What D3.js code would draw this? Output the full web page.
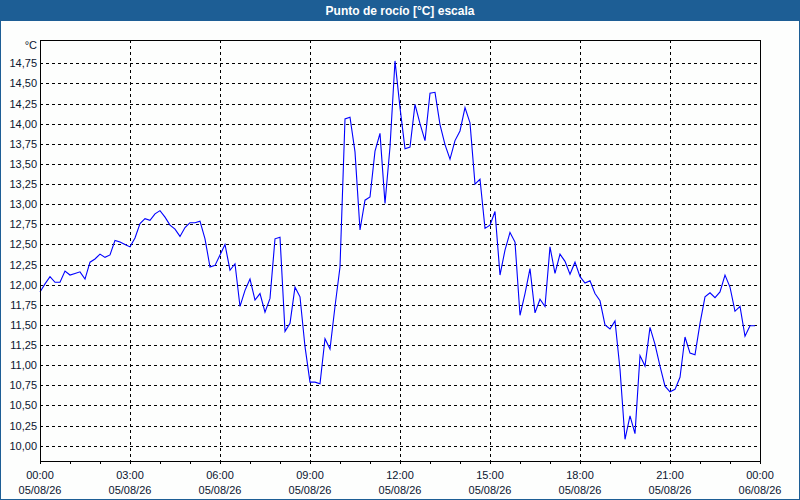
<!DOCTYPE html>
<html><head><meta charset="utf-8">
<script src="https://cdn.jsdelivr.net/npm/d3@7"></script>
<style>
html,body{margin:0;padding:0;background:#fff;}
svg{display:block;}
text{font-family:"Liberation Sans",Arial,sans-serif;}
</style></head><body>
<script>
// Data: dew point every 10 minutes, 05/08/26 00:00 - 23:50
const dewPoint = [
11.91,12.01,12.10,12.03,12.03,12.17,
12.12,12.14,12.16,12.07,12.28,12.32,
12.38,12.34,12.37,12.55,12.53,12.50,
12.47,12.58,12.76,12.82,12.80,12.88,
12.92,12.84,12.74,12.69,12.60,12.71,
12.77,12.77,12.79,12.57,12.22,12.24,
12.37,12.50,12.18,12.26,11.73,11.93,
12.07,11.81,11.89,11.66,11.83,12.57,
12.59,11.42,11.52,11.97,11.85,11.23,
10.79,10.79,10.77,11.33,11.20,11.73,
12.22,14.06,14.08,13.65,12.68,13.05,
13.09,13.66,13.88,13.01,13.71,14.78,
14.20,13.69,13.71,14.24,14.00,13.79,
14.38,14.39,13.99,13.74,13.56,13.79,
13.91,14.20,14.01,13.25,13.31,12.70,
12.74,12.91,12.12,12.43,12.65,12.53,
11.62,11.89,12.20,11.65,11.82,11.73,
12.47,12.14,12.38,12.29,12.13,12.28,
12.10,12.02,12.05,11.89,11.80,11.50,
11.45,11.55,10.95,10.08,10.37,10.15,
11.12,10.99,11.47,11.26,10.99,10.74,
10.67,10.70,10.85,11.35,11.15,11.13,
11.52,11.85,11.90,11.84,11.91,12.12,
11.97,11.67,11.73,11.36,11.49,11.49
];
const stepMinutes = 10;
const yTicks = [10.00,10.25,10.50,10.75,11.00,11.25,11.50,11.75,12.00,12.25,12.50,12.75,13.00,13.25,13.50,13.75,14.00,14.25,14.50,14.75];
const xLabelHours = [0,3,6,9,12,15,18,21,24];
const xTimeLabels = ["00:00","03:00","06:00","09:00","12:00","15:00","18:00","21:00","00:00"];
const xDateLabels = ["05/08/26","05/08/26","05/08/26","05/08/26","05/08/26","05/08/26","05/08/26","05/08/26","06/08/26"];
const minorHours = d3.range(0,25);
const title = "Punto de rocío [°C] escala";
const unit = "°C";

const W = 800, H = 500;
const L = 40, R = 760, T = 40, B = 461;
const svg = d3.select("body").append("svg").attr("width",W).attr("height",H);

svg.append("rect").attr("x",0).attr("y",0).attr("width",W).attr("height",H).attr("fill","#fdfefd");
svg.append("rect").attr("x",0).attr("y",0).attr("width",W).attr("height",21).attr("fill","#1d5e95");
svg.append("rect").attr("x",0.5).attr("y",0.5).attr("width",W-1).attr("height",H-1)
  .attr("fill","none").attr("stroke","#1d5e95").attr("stroke-width",1);
svg.append("text").attr("x",W/2).attr("y",15).attr("text-anchor","middle")
  .attr("fill","#fff").attr("font-weight","bold").attr("font-size",12).text(title);

const x = d3.scaleLinear().domain([0,24]).range([L,R]);
const y = d3.scaleLinear().domain([9.81,15.04]).range([B,T]);

const grid = svg.append("g").attr("shape-rendering","crispEdges");
grid.selectAll("line.h").data(yTicks).join("line").attr("class","h")
  .attr("x1",L).attr("x2",R).attr("y1",d=>Math.round(y(d))+0.5).attr("y2",d=>Math.round(y(d))+0.5)
  .attr("stroke","#000").attr("stroke-dasharray","3,3");
grid.selectAll("line.v").data(xLabelHours.slice(1,-1)).join("line").attr("class","v")
  .attr("x1",d=>Math.round(x(d))+0.5).attr("x2",d=>Math.round(x(d))+0.5).attr("y1",T).attr("y2",B)
  .attr("stroke","#000").attr("stroke-dasharray","3,3");

// minor ticks below axis
grid.selectAll("line.t").data(minorHours).join("line").attr("class","t")
  .attr("x1",d=>Math.round(x(d))+0.5).attr("x2",d=>Math.round(x(d))+0.5).attr("y1",B).attr("y2",B+3)
  .attr("stroke","#000");

const line = d3.line().x((d,i)=>x(i*stepMinutes/60)).y(d=>y(d));
svg.append("path").datum(dewPoint).attr("d",line).attr("fill","none")
  .attr("stroke","#0000ff").attr("stroke-width",1.1);

svg.append("rect").attr("x",L+0.5).attr("y",T+0.5).attr("width",R-L).attr("height",B-T)
  .attr("fill","none").attr("stroke","#000").attr("shape-rendering","crispEdges");

const fmt = d=>d.toFixed(2).replace(".",",");
svg.append("g").selectAll("text").data(yTicks).join("text")
  .attr("x",37).attr("y",d=>y(d)+4).attr("text-anchor","end").attr("font-size",11)
  .attr("fill","#0b1530").text(fmt);
svg.append("text").attr("x",37).attr("y",49).attr("text-anchor","end").attr("font-size",11)
  .attr("fill","#0b1530").text(unit);

const xl = svg.append("g");
xl.selectAll("text.tm").data(xLabelHours).join("text").attr("class","tm")
  .attr("x",d=>x(d)).attr("y",479).attr("text-anchor","middle").attr("font-size",11)
  .attr("fill","#0b1530").text((d,i)=>xTimeLabels[i]);
xl.selectAll("text.dt").data(xLabelHours).join("text").attr("class","dt")
  .attr("x",d=>x(d)).attr("y",494).attr("text-anchor","middle").attr("font-size",11)
  .attr("fill","#0b1530").text((d,i)=>xDateLabels[i]);
</script>
</body></html>
